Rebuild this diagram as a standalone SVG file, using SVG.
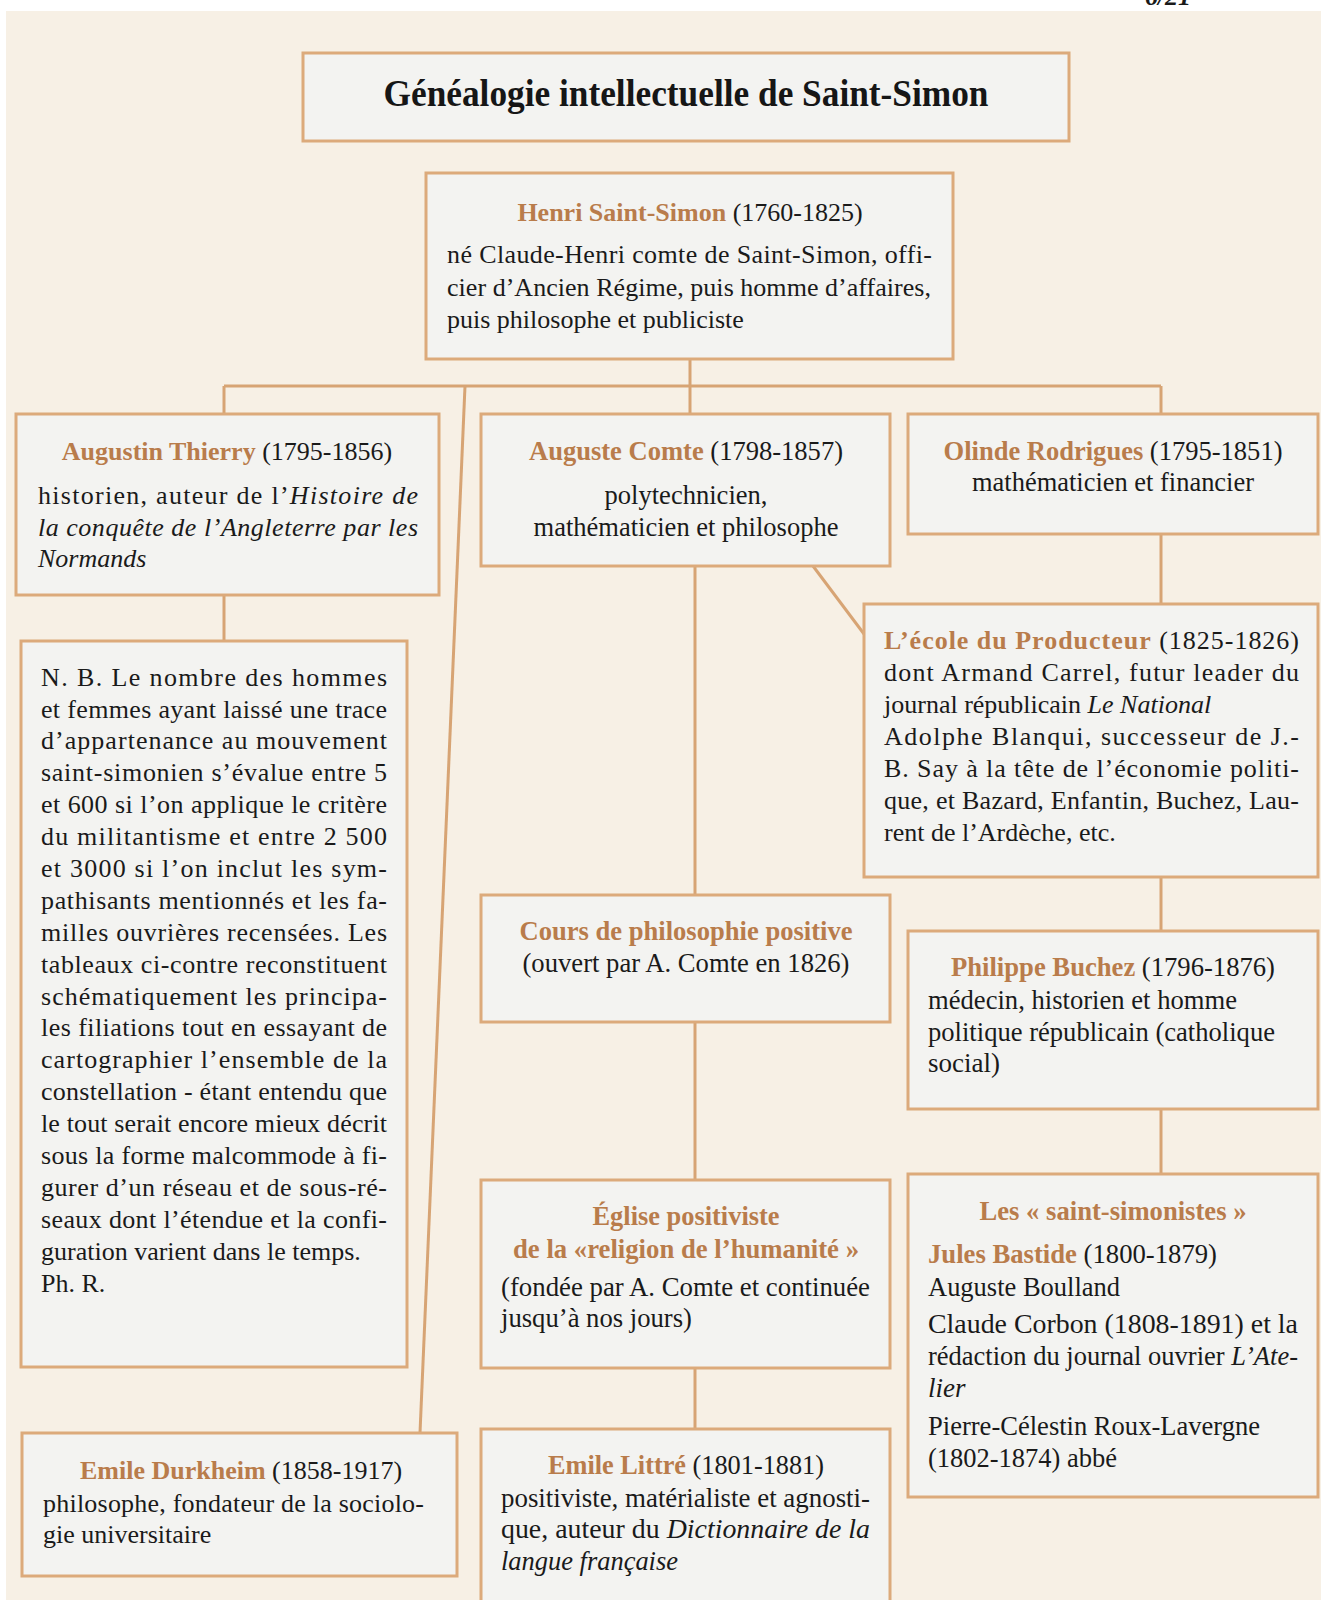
<svg xmlns="http://www.w3.org/2000/svg" width="1321" height="1600" viewBox="0 0 1321 1600">
<style>
.box{fill:#f3f3f1;stroke:#dcaa7b;stroke-width:3}
.conn{stroke:#d7a474;stroke-width:3;fill:none}
text{font-family:"Liberation Serif","Times New Roman",serif;font-size:26px;fill:#1a1a1a}
.k{font-size:28px}
.k2{font-size:27px}
.ttl{font-size:38px;font-weight:bold;fill:#161616}
.n{font-weight:bold;fill:#b97c4b}
.i{font-style:italic}
.c{text-anchor:middle}
</style>
<rect x="0" y="0" width="1321" height="1600" fill="#ffffff"/>
<rect x="6" y="11" width="1315" height="1589" fill="#f7f0e5"/>
<text x="1168" y="5" class="c i" font-weight="bold">6/21</text>

<g id="connectors">
<line class="conn" x1="690" y1="359" x2="690" y2="386"/>
<line class="conn" x1="224" y1="386" x2="1161" y2="386"/>
<line class="conn" x1="224" y1="386" x2="224" y2="414"/>
<line class="conn" x1="690" y1="386" x2="690" y2="414"/>
<line class="conn" x1="1161" y1="386" x2="1161" y2="414"/>
<line class="conn" x1="465" y1="386" x2="420" y2="1433"/>
<line class="conn" x1="224" y1="595" x2="224" y2="641"/>
<line class="conn" x1="695" y1="566" x2="695" y2="895"/>
<line class="conn" x1="813" y1="566" x2="864" y2="634"/>
<line class="conn" x1="1161" y1="534" x2="1161" y2="604"/>
<line class="conn" x1="1161" y1="877" x2="1161" y2="931"/>
<line class="conn" x1="695" y1="1022" x2="695" y2="1180"/>
<line class="conn" x1="1161" y1="1109" x2="1161" y2="1174"/>
<line class="conn" x1="695" y1="1368" x2="695" y2="1429"/>
</g>

<g id="title">
<rect class="box" x="303" y="53" width="766" height="88"/>
<text x="686" y="106" class="c ttl" textLength="605" lengthAdjust="spacingAndGlyphs">Généalogie intellectuelle de Saint-Simon</text>
</g>

<g id="henri">
<rect class="box" x="426" y="173" width="527" height="186"/>
<text x="690" y="221" class="c"><tspan class="n">Henri Saint-Simon</tspan> (1760-1825)</text>
<text x="447" y="263" textLength="485">né Claude-Henri comte de Saint-Simon, offi-</text>
<text x="447" y="296" textLength="484">cier d’Ancien Régime, puis homme d’affaires,</text>
<text x="447" y="328">puis philosophe et publiciste</text>
</g>

<g id="thierry">
<rect class="box" x="16" y="414" width="423" height="181"/>
<text x="227" y="460" class="c"><tspan class="n">Augustin Thierry</tspan> (1795-1856)</text>
<text x="38" y="504" textLength="380">historien, auteur de l’<tspan class="i">Histoire de</tspan></text>
<text x="38" y="536" class="i" textLength="380">la conquête de l’Angleterre par les</text>
<text x="38" y="567" class="i">Normands</text>
</g>

<g id="comte">
<rect class="box" x="481" y="414" width="409" height="152"/>
<text x="686" y="460" class="c k" textLength="314" lengthAdjust="spacingAndGlyphs"><tspan class="n">Auguste Comte</tspan> (1798-1857)</text>
<text x="686" y="504" class="c k" textLength="163" lengthAdjust="spacingAndGlyphs">polytechnicien,</text>
<text x="686" y="536" class="c k" textLength="305" lengthAdjust="spacingAndGlyphs">mathématicien et philosophe</text>
</g>

<g id="olinde">
<rect class="box" x="908" y="414" width="410" height="120"/>
<text x="1113" y="460" class="c k" textLength="339" lengthAdjust="spacingAndGlyphs"><tspan class="n">Olinde Rodrigues</tspan> (1795-1851)</text>
<text x="1113" y="491" class="c k" textLength="282" lengthAdjust="spacingAndGlyphs">mathématicien et financier</text>
</g>

<g id="nb">
<rect class="box" x="21" y="641" width="386" height="726"/>
<text x="41" y="686" textLength="346">N. B. Le nombre des hommes</text>
<text x="41" y="718" textLength="346">et femmes ayant laissé une trace</text>
<text x="41" y="749" textLength="346">d’appartenance au mouvement</text>
<text x="41" y="781" textLength="346">saint-simonien s’évalue entre 5</text>
<text x="41" y="813" textLength="346">et 600 si l’on applique le critère</text>
<text x="41" y="845" textLength="346">du militantisme et entre 2 500</text>
<text x="41" y="877" textLength="346">et 3000 si l’on inclut les sym-</text>
<text x="41" y="909" textLength="346">pathisants mentionnés et les fa-</text>
<text x="41" y="941" textLength="346">milles ouvrières recensées. Les</text>
<text x="41" y="973" textLength="346">tableaux ci-contre reconstituent</text>
<text x="41" y="1005" textLength="346">schématiquement les principa-</text>
<text x="41" y="1036" textLength="346">les filiations tout en essayant de</text>
<text x="41" y="1068" textLength="346">cartographier l’ensemble de la</text>
<text x="41" y="1100" textLength="346">constellation - étant entendu que</text>
<text x="41" y="1132" textLength="346">le tout serait encore mieux décrit</text>
<text x="41" y="1164" textLength="346">sous la forme malcommode à fi-</text>
<text x="41" y="1196" textLength="346">gurer d’un réseau et de sous-ré-</text>
<text x="41" y="1228" textLength="346">seaux dont l’étendue et la confi-</text>
<text x="41" y="1260">guration varient dans le temps.</text>
<text x="41" y="1292">Ph. R.</text>
</g>

<g id="ecole">
<rect class="box" x="864" y="604" width="454" height="273"/>
<text x="884" y="649" textLength="415"><tspan class="n">L’école du Producteur</tspan> (1825-1826)</text>
<text x="884" y="681" textLength="415">dont Armand Carrel, futur leader du</text>
<text x="884" y="713">journal républicain <tspan class="i">Le National</tspan></text>
<text x="884" y="745" textLength="415">Adolphe Blanqui, successeur de J.-</text>
<text x="884" y="777" textLength="415">B. Say à la tête de l’économie politi-</text>
<text x="884" y="809" textLength="415">que, et Bazard, Enfantin, Buchez, Lau-</text>
<text x="884" y="841">rent de l’Ardèche, etc.</text>
</g>

<g id="cours">
<rect class="box" x="481" y="895" width="409" height="127"/>
<text x="686" y="940" class="c n k" textLength="333" lengthAdjust="spacingAndGlyphs">Cours de philosophie positive</text>
<text x="686" y="972" class="c k" textLength="327" lengthAdjust="spacingAndGlyphs">(ouvert par A. Comte en 1826)</text>
</g>

<g id="buchez">
<rect class="box" x="908" y="931" width="410" height="178"/>
<text x="1113" y="976" class="c k" textLength="324" lengthAdjust="spacingAndGlyphs"><tspan class="n">Philippe Buchez</tspan> (1796-1876)</text>
<text x="928" y="1009" class="k" textLength="309" lengthAdjust="spacingAndGlyphs">médecin, historien et homme</text>
<text x="928" y="1041" class="k" textLength="347" lengthAdjust="spacingAndGlyphs">politique républicain (catholique</text>
<text x="928" y="1072" class="k" textLength="72" lengthAdjust="spacingAndGlyphs">social)</text>
</g>

<g id="eglise">
<rect class="box" x="481" y="1180" width="409" height="188"/>
<text x="686" y="1225" class="c n k" textLength="187" lengthAdjust="spacingAndGlyphs">Église positiviste</text>
<text x="686" y="1258" class="c n k" textLength="346" lengthAdjust="spacingAndGlyphs">de la «religion de l’humanité »</text>
<text x="501" y="1296" class="k" textLength="369" lengthAdjust="spacingAndGlyphs">(fondée par A. Comte et continuée</text>
<text x="501" y="1327" class="k" textLength="191" lengthAdjust="spacingAndGlyphs">jusqu’à nos jours)</text>
</g>

<g id="saintsimonistes">
<rect class="box" x="908" y="1174" width="410" height="323"/>
<text x="1113" y="1220" class="c n k" textLength="267" lengthAdjust="spacingAndGlyphs">Les « saint-simonistes »</text>
<text x="928" y="1263" class="k" textLength="289" lengthAdjust="spacingAndGlyphs"><tspan class="n">Jules Bastide</tspan> (1800-1879)</text>
<text x="928" y="1296" class="k" textLength="192" lengthAdjust="spacingAndGlyphs">Auguste Boulland</text>
<text x="928" y="1333" class="k2" textLength="370" lengthAdjust="spacingAndGlyphs">Claude Corbon (1808-1891) et la</text>
<text x="928" y="1365" class="k2" textLength="370" lengthAdjust="spacingAndGlyphs">rédaction du journal ouvrier <tspan class="i">L’Ate-</tspan></text>
<text x="928" y="1397" class="i k2">lier</text>
<text x="928" y="1435" class="k" textLength="332" lengthAdjust="spacingAndGlyphs">Pierre-Célestin Roux-Lavergne</text>
<text x="928" y="1467" class="k" textLength="189" lengthAdjust="spacingAndGlyphs">(1802-1874) abbé</text>
</g>

<g id="durkheim">
<rect class="box" x="22" y="1433" width="435" height="143"/>
<text x="241" y="1479" class="c"><tspan class="n">Emile Durkheim</tspan> (1858-1917)</text>
<text x="43" y="1512" textLength="381">philosophe, fondateur de la sociolo-</text>
<text x="43" y="1543">gie universitaire</text>
</g>

<g id="littre">
<rect class="box" x="481" y="1429" width="409" height="180"/>
<text x="686" y="1474" class="c k" textLength="276" lengthAdjust="spacingAndGlyphs"><tspan class="n">Emile Littré</tspan> (1801-1881)</text>
<text x="501" y="1507" class="k" textLength="369" lengthAdjust="spacingAndGlyphs">positiviste, matérialiste et agnosti-</text>
<text x="501" y="1538" class="k" textLength="369" lengthAdjust="spacingAndGlyphs">que, auteur du <tspan class="i">Dictionnaire de la</tspan></text>
<text x="501" y="1570" class="i k" textLength="177" lengthAdjust="spacingAndGlyphs">langue française</text>
</g>
</svg>
